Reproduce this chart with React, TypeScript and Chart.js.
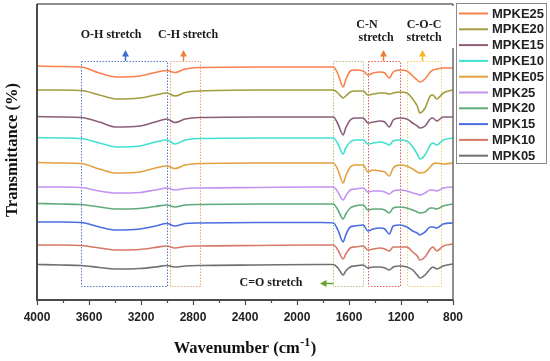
import React, { useEffect, useRef } from "react";
import { Chart, registerables } from "chart.js";

Chart.register(...registerables);

// Wavenumbers (cm-1) shared by all spectra
const WAVENUMBERS = [4000, 3820, 3660, 3520, 3390, 3210, 3090, 3000, 2940, 2860, 2750, 2300, 1820, 1720, 1685, 1645, 1625, 1590, 1555, 1490, 1455, 1415, 1360, 1325, 1290, 1260, 1210, 1155, 1110, 1075, 1055, 1015, 975, 955, 925, 875, 800];

// Offset transmittance values (arbitrary units, stacked)
const MPKE25 = [234, 233.5, 233, 227, 223, 224, 227.5, 229.5, 227.5, 231, 232.5, 233, 233, 233, 226, 213, 220, 229, 230, 229, 225, 227, 228, 227, 222, 228, 230, 229, 224, 220, 218, 221, 228, 230, 231, 232, 232];
const MPKE20 = [210, 210, 209.5, 205, 201, 202, 205, 207, 204, 207.5, 209, 210, 210, 210, 207, 202, 204, 208, 209, 209, 205, 206, 207, 207, 206, 207, 208, 207, 201, 194, 187, 192, 204, 205, 201, 207, 210];
const MPKE15 = [183.5, 183, 182.5, 178, 173, 174, 178, 181, 177.5, 181, 182.5, 183, 183, 183, 176, 165, 172, 180, 182, 182, 177, 178, 179, 178, 173, 180, 182, 181, 177, 174, 172, 174, 181, 182, 179, 183, 183];
const MPKE10 = [162.5, 162, 161.5, 157, 153, 154, 158, 160, 156, 160, 161.5, 162, 162, 162, 156, 146, 152, 158, 160, 160, 156, 157, 158, 157, 155, 159, 160, 159, 153, 146, 141, 145, 155, 157, 155, 160, 162];
const MPKE05 = [137.5, 137, 136.5, 131, 127, 128, 132, 134, 131.5, 135, 136.5, 137, 137, 137, 130, 117, 124, 133, 135, 135, 128, 130, 129, 128, 124, 132, 135, 134, 131, 128, 127, 128, 133, 136, 137, 136, 137];
const MPK25 = [113, 113, 112.5, 109, 107, 107.5, 110, 112, 110, 111.5, 112, 112.5, 113, 113, 108, 100, 104, 110, 111, 112, 108, 109, 109, 108, 106, 109, 110, 109, 107, 106, 105, 107, 110, 110, 109, 112, 113];
const MPK20 = [96.5, 96, 95.5, 93, 91, 91.5, 93.5, 95, 93, 95, 95.5, 96, 96, 96, 90, 81, 86, 92, 94, 95, 90, 91, 91, 90, 87, 92, 93, 92, 90, 88, 87, 88, 92, 92, 91, 94, 96];
const MPK15 = [78, 78, 77.5, 73, 70, 71, 74, 76.5, 74, 76.5, 77, 77.5, 77.5, 77, 70, 58, 65, 73, 74, 75, 69, 71, 72, 71, 66, 74, 75, 73, 69, 67, 65, 68, 73, 73, 72, 76, 77];
const MPK10 = [55, 55, 54.5, 52, 50, 50.5, 52.5, 54, 52, 53.5, 54, 54.5, 55, 55, 50, 41, 46, 52, 53, 54, 50, 51, 52, 51, 49, 53, 53, 53, 48, 44, 40, 43, 51, 53, 49, 54, 56];
const MPK05 = [35.5, 35, 34.5, 32.5, 31, 31.5, 33, 34.5, 33, 34, 34.5, 35, 35.5, 35.5, 32, 25, 29, 33, 34, 35, 32, 33, 33, 32, 30, 33, 34, 33, 30, 25, 22, 25, 31, 33, 31, 34, 36];

const SERIES_NAMES = ["MPKE25", "MPKE20", "MPKE15", "MPKE10", "MPKE05", "MPK25", "MPK20", "MPK15", "MPK10", "MPK05"];
const SERIES_VALUES = [MPKE25, MPKE20, MPKE15, MPKE10, MPKE05, MPK25, MPK20, MPK15, MPK10, MPK05];
const SERIES_COLORS = ["#F9804F", "#A29C3E", "#8C5E78", "#40E0D0", "#E3A140", "#C393F0", "#5FAA7A", "#4A6EE0", "#D87868", "#707070"];

const X_TICKS = [4000, 3600, 3200, 2800, 2400, 2000, 1600, 1200, 800];
const X_MINOR_TICKS = [3800, 3400, 3000, 2600, 2200, 1800, 1400, 1000];

// Highlighted band regions [high wavenumber, low wavenumber]
const REGION_NAMES = ["O-H", "C-H", "C=O", "C-N", "C-O-C"];
const REGION_RANGES = [[3660, 3000], [2980, 2750], [1720, 1490], [1455, 1210], [1155, 890]];
const REGION_TOP = 239;
const REGION_BOTTOM = 14;

function App() {
  const canvasRef = useRef<HTMLCanvasElement | null>(null);

  useEffect(() => {
    document.body.style.margin = "0";
    const canvas = canvasRef.current;
    if (!canvas) return;

    const boxColors = ["#5B78C8", "#E9A57A", "#A6C67A", "#E25A5A", "#F2D466"];
    const serif = '"Liberation Serif", "DejaVu Serif", serif';
    const sans = '"Liberation Sans", Arial, sans-serif';

    const overlay = {
      id: "overlay",
      beforeDatasetsDraw(chart: any) {
        const { ctx, scales } = chart;
        const x = scales.x, y = scales.y;
        ctx.save();
        ctx.lineWidth = 1;
        ctx.setLineDash([1.5, 1.5]);
        REGION_RANGES.forEach((r, i) => {
          const x1 = x.getPixelForValue(r[0]);
          const x2 = x.getPixelForValue(r[1]);
          const y1 = y.getPixelForValue(REGION_TOP);
          const y2 = y.getPixelForValue(REGION_BOTTOM);
          ctx.strokeStyle = boxColors[i];
          ctx.strokeRect(Math.round(x1) + 0.5, Math.round(y1) + 0.5, Math.round(x2 - x1), Math.round(y2 - y1));
        });
        ctx.restore();
      },
      afterDraw(chart: any) {
        const { ctx, chartArea, scales } = chart;
        const x = scales.x, y = scales.y;
        const { left, right, top, bottom } = chartArea;
        ctx.save();
        ctx.setLineDash([]);
        // frame
        ctx.strokeStyle = "#6a6a6a";
        ctx.lineWidth = 1.5;
        ctx.beginPath();
        ctx.moveTo(left, top);
        ctx.lineTo(right, top);
        ctx.moveTo(right, top);
        ctx.lineTo(right, top + 2);
        ctx.moveTo(right, top + 44);
        ctx.lineTo(right, bottom);
        ctx.stroke();
        ctx.strokeStyle = "#4a4a4a";
        ctx.lineWidth = 2;
        ctx.beginPath();
        ctx.moveTo(left, top);
        ctx.lineTo(left, bottom);
        ctx.lineTo(right, bottom);
        ctx.stroke();
        // ticks
        ctx.lineWidth = 1.2;
        ctx.beginPath();
        X_TICKS.forEach((v) => {
          const px = Math.round(x.getPixelForValue(v)) + 0.5;
          ctx.moveTo(px, bottom);
          ctx.lineTo(px, bottom + 5);
        });
        X_MINOR_TICKS.forEach((v) => {
          const px = Math.round(x.getPixelForValue(v)) + 0.5;
          ctx.moveTo(px, bottom);
          ctx.lineTo(px, bottom + 3);
        });
        ctx.stroke();

        // region labels
        ctx.fillStyle = "#1a1a1a";
        ctx.font = `bold 12px ${serif}`;
        ctx.textAlign = "center";
        ctx.textBaseline = "middle";
        const label = (t: string, wn: number, v: number) => ctx.fillText(t, x.getPixelForValue(wn), y.getPixelForValue(v));
        label("O-H stretch", 3430, 265);
        label("C-H stretch", 2838, 265);
        label("C-N", 1462, 275);
        label("stretch", 1392, 262);
        label("C-O-C", 1023, 275);
        label("stretch", 1023, 262);
        label("C=O stretch", 2200, 17);

        const arrowUp = (wn: number, color: string) => {
          const px = Math.round(x.getPixelForValue(wn)) + 0.5;
          const yb = y.getPixelForValue(REGION_TOP);
          const yt = y.getPixelForValue(250);
          ctx.strokeStyle = color;
          ctx.fillStyle = color;
          ctx.lineWidth = 1.5;
          ctx.beginPath();
          ctx.moveTo(px, yb);
          ctx.lineTo(px, yt + 4);
          ctx.stroke();
          ctx.beginPath();
          ctx.moveTo(px, yt);
          ctx.lineTo(px - 3.5, yt + 6.5);
          ctx.lineTo(px + 3.5, yt + 6.5);
          ctx.closePath();
          ctx.fill();
        };
        arrowUp(3323, "#3F6FD0");
        arrowUp(2877, "#F07F40");
        arrowUp(1338, "#E8803A");
        arrowUp(1038, "#F5B820");
        // left arrow for C=O
        {
          const xs = x.getPixelForValue(1720);
          const xt = x.getPixelForValue(1823);
          const py = Math.round(y.getPixelForValue(17)) + 0.5;
          ctx.strokeStyle = "#6AA030";
          ctx.fillStyle = "#6AA030";
          ctx.lineWidth = 1.5;
          ctx.beginPath();
          ctx.moveTo(xs, py);
          ctx.lineTo(xt + 4, py);
          ctx.stroke();
          ctx.beginPath();
          ctx.moveTo(xt, py);
          ctx.lineTo(xt + 6.5, py - 3.5);
          ctx.lineTo(xt + 6.5, py + 3.5);
          ctx.closePath();
          ctx.fill();
        }

        // axis titles
        ctx.fillStyle = "#111";
        ctx.textBaseline = "alphabetic";
        ctx.textAlign = "left";
        const mainFont = `bold 16.5px ${serif}`;
        const supFont = `bold 12px ${serif}`;
        const t1 = "Wavenumber (cm";
        const t2 = "-1";
        const t3 = ")";
        ctx.font = mainFont;
        const w1 = ctx.measureText(t1).width;
        const w3 = ctx.measureText(t3).width;
        ctx.font = supFont;
        const w2 = ctx.measureText(t2).width;
        const total = w1 + w2 + w3 + 1;
        const cx = 245;
        const base = 353;
        let sx = cx - total / 2;
        ctx.font = mainFont;
        ctx.fillText(t1, sx, base);
        sx += w1 + 0.5;
        ctx.font = supFont;
        ctx.fillText(t2, sx, base - 7);
        sx += w2 + 0.5;
        ctx.font = mainFont;
        ctx.fillText(t3, sx, base);

        ctx.save();
        ctx.translate(13, 150);
        ctx.rotate(-Math.PI / 2);
        ctx.textAlign = "center";
        ctx.textBaseline = "middle";
        ctx.font = mainFont;
        ctx.fillText("Transmittance (%)", 0, 0);
        ctx.restore();

        // legend
        ctx.fillStyle = "#ffffff";
        ctx.fillRect(456.5, 3.5, 90, 160);
        ctx.strokeStyle = "#8a8a8a";
        ctx.lineWidth = 1;
        ctx.strokeRect(456.5, 3.5, 90, 160);
        ctx.font = `bold 13px ${sans}`;
        ctx.textAlign = "left";
        ctx.textBaseline = "middle";
        SERIES_NAMES.forEach((name, i) => {
          const ly = 13.5 + i * 15.8;
          ctx.strokeStyle = SERIES_COLORS[i];
          ctx.lineWidth = 2;
          ctx.beginPath();
          ctx.moveTo(459, ly);
          ctx.lineTo(488, ly);
          ctx.stroke();
          ctx.fillStyle = "#222";
          ctx.fillText(name, 492, ly + 0.5);
        });
        ctx.restore();
      },
    };

    const chart = new Chart(canvas, {
      type: "line",
      data: {
        datasets: SERIES_NAMES.map((name, i) => ({
          label: name,
          data: WAVENUMBERS.map((wn, j) => ({ x: wn, y: SERIES_VALUES[i][j] })),
          borderColor: SERIES_COLORS[i],
          backgroundColor: SERIES_COLORS[i],
          borderWidth: 1.6,
          pointRadius: 0,
          cubicInterpolationMode: "monotone" as const,
          fill: false,
        })),
      },
      options: {
        responsive: false,
        animation: false,
        layout: { padding: { left: 37, right: 97, top: 4, bottom: 0 } },
        plugins: { legend: { display: false }, tooltip: { enabled: false } },
        scales: {
          x: {
            type: "linear",
            reverse: true,
            min: 800,
            max: 4000,
            afterBuildTicks: (scale: any) => {
              scale.ticks = X_TICKS.map((v) => ({ value: v }));
            },
            afterFit: (scale: any) => {
              scale.height = 61;
            },
            grid: { display: false, drawTicks: false },
            border: { display: false },
            ticks: {
              padding: 10,
              color: "#222",
              font: { family: sans, size: 12, weight: "bold" },
              maxRotation: 0,
              autoSkip: false,
              callback: (v: any) => String(v),
            },
          },
          y: {
            display: false,
            min: 0,
            max: 296,
          },
        },
      },
      plugins: [overlay],
    } as any);

    return () => chart.destroy();
  }, []);

  return (
    <div style={{ width: 550, height: 361 }}>
      <canvas ref={canvasRef} width={550} height={361} />
    </div>
  );
}

export default App;
